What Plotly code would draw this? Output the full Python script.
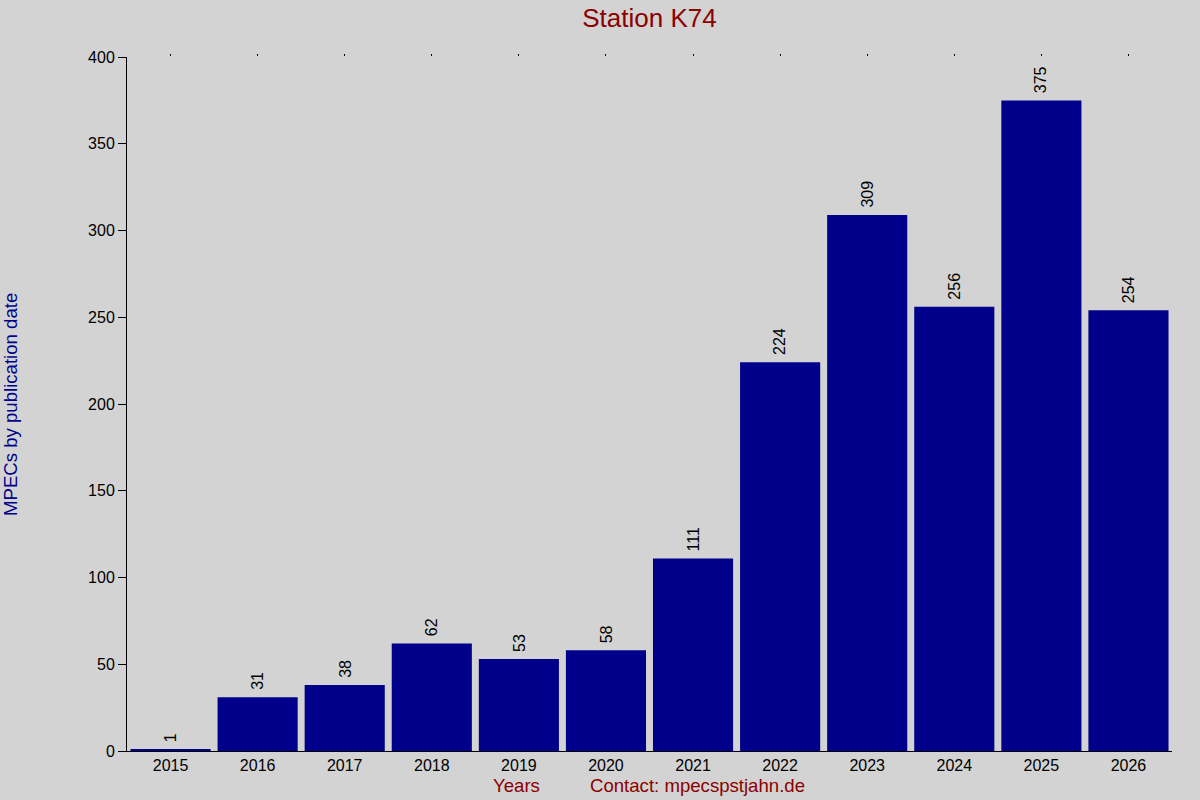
import plotly.graph_objects as go

years = ['2015', '2016', '2017', '2018', '2019', '2020',
         '2021', '2022', '2023', '2024', '2025', '2026']
mpecs = [1, 31, 38, 62, 53, 58, 111, 224, 309, 256, 375, 254]

fig = go.Figure()
fig.add_trace(go.Bar(
    x=list(range(len(years))), y=mpecs,
    marker=dict(color='#00008B', line=dict(width=0)),
))
# invisible trace so the top axis (small tick dots) gets drawn
fig.add_trace(go.Scatter(x=list(range(len(years))), y=mpecs, xaxis='x2',
                         mode='markers', marker=dict(opacity=0), hoverinfo='skip'))

# value labels above the bars, rotated
for i, v in enumerate(mpecs):
    fig.add_annotation(x=i, y=v, text=str(v), textangle=-90, showarrow=False,
                       xanchor='center', yanchor='bottom', yshift=5,
                       font=dict(color='black', size=16))

fig.update_layout(
    width=1200, height=800,
    paper_bgcolor='#D3D3D3', plot_bgcolor='#D3D3D3',
    margin=dict(l=127, r=28, t=57, b=49),
    bargap=0.08,
    showlegend=False,
    font=dict(family='Liberation Sans', color='black', size=16),
    title=dict(text='Station K74', x=0.5, xref='paper', y=0.978, yanchor='middle',
               font=dict(color='#8B0000', size=26)),
    xaxis=dict(tickmode='array', tickvals=list(range(len(years))), ticktext=years,
               range=[-0.5, len(years) - 0.5], showgrid=False, zeroline=False,
               showline=True, linecolor='black', linewidth=1, ticks='', ticklen=0),
    xaxis2=dict(overlaying='x', side='top', range=[-0.5, len(years) - 0.5],
                tickmode='array', tickvals=list(range(len(years))),
                showticklabels=False, ticks='outside', ticklen=2, tickwidth=1,
                tickcolor='black', showgrid=False, zeroline=False, showline=False),
    yaxis=dict(range=[0, 400], dtick=50, showgrid=False, zeroline=False,
               showline=True, linecolor='black', linewidth=1,
               ticks='outside', ticklen=8, tickcolor='black'),
)

fig.add_annotation(text='MPECs by publication date', xref='paper', yref='paper',
                   x=-0.112, y=0.5, textangle=-90, showarrow=False,
                   xanchor='center', yanchor='middle',
                   font=dict(color='#00008B', size=18.6))
fig.add_annotation(text='Years', xref='paper', yref='paper', x=0.373, y=-0.0504,
                   showarrow=False, xanchor='center', yanchor='middle',
                   font=dict(color='#8B0000', size=18.6))
fig.add_annotation(text='Contact: mpecspstjahn.de', xref='paper', yref='paper',
                   x=0.546, y=-0.0504, showarrow=False, xanchor='center',
                   yanchor='middle', font=dict(color='#8B0000', size=18.6))

fig.write_html("out.html", config={'displayModeBar': False},
               post_script="document.body.style.margin='0';")
